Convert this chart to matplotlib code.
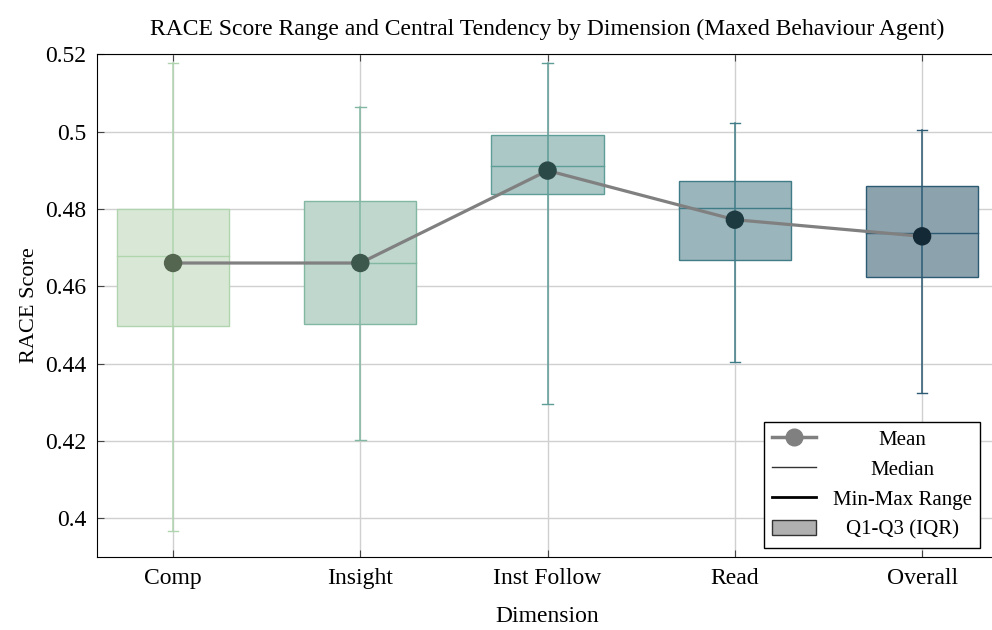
import numpy as np
import matplotlib.pyplot as plt
from matplotlib.lines import Line2D
from matplotlib.patches import Patch

plt.rcParams['font.family'] = ['Liberation Serif', 'DejaVu Serif']

# Values
dimensions = ['Comp', 'Insight', 'Inst Follow', 'Read', 'Overall']
mins = [0.3968, 0.4202, 0.4295, 0.4403, 0.4323]
q1s = [0.4496, 0.4501, 0.4838, 0.4668, 0.4625]
medians = [0.4678, 0.4660, 0.4911, 0.4801, 0.4737]
q3s = [0.4800, 0.4821, 0.4990, 0.4872, 0.4859]
maxs = [0.5176, 0.5064, 0.5176, 0.5021, 0.5003]
means = [0.4660, 0.4660, 0.4899, 0.4772, 0.4729]

box_faces = ['#d9e8d6', '#bfd7cd', '#abc7c6', '#9ab5bb', '#8ca3ae']
box_edges = ['#b0d4ae', '#82b7a2', '#5f9d97', '#3f7c87', '#2b5a72']
mean_colors = ['#556650', '#3c574b', '#2b4947', '#1d3a41', '#132a36']

fig = plt.figure(figsize=(9.92, 6.3), dpi=100)
# the plot area runs a little past the right edge of the picture, as in the original
ax = fig.add_axes([0.098, 0.116, 0.908, 0.798])

x = np.arange(len(dimensions))
w = 0.6
for i in range(len(dimensions)):
    # min-max whisker
    ax.plot([x[i], x[i]], [mins[i], maxs[i]], color=box_edges[i], lw=1.1, zorder=2)
    for v in (mins[i], maxs[i]):
        ax.plot([x[i] - 0.028, x[i] + 0.028], [v, v], color=box_edges[i], lw=1.0, zorder=2)
    # IQR box
    ax.add_patch(plt.Rectangle((x[i] - w / 2, q1s[i]), w, q3s[i] - q1s[i],
                               facecolor=box_faces[i], edgecolor=box_edges[i],
                               lw=1.0, zorder=1))
    # median
    ax.plot([x[i] - w / 2, x[i] + w / 2], [medians[i], medians[i]],
            color=box_edges[i], lw=1.0, zorder=3)

ax.plot(x, means, color='#808080', lw=2.3, zorder=4)
ax.scatter(x, means, s=150, c=mean_colors, zorder=5)

ax.set_xlim(-0.405, 4.405)
ax.set_ylim(0.39, 0.52)
ax.set_xticks(x)
ax.set_xticklabels(dimensions, fontsize=17)
ax.set_yticks([0.40, 0.42, 0.44, 0.46, 0.48, 0.50, 0.52])
ax.set_yticklabels(['0.4', '0.42', '0.44', '0.46', '0.48', '0.5', '0.52'], fontsize=17)
ax.tick_params(direction='in', length=5, color='#444444', pad=8, top=True)
ax.grid(True, color='#d0d0d0', lw=1.0)
ax.set_axisbelow(True)

ax.set_xlabel('Dimension', fontsize=17, labelpad=12)
ax.set_ylabel('RACE Score', fontsize=16, labelpad=4)
ax.set_title('RACE Score Range and Central Tendency by Dimension (Maxed Behaviour Agent)',
             fontsize=17, pad=14)

handles = [
    Line2D([0], [0], color='#808080', lw=2.5, marker='o', markersize=12),
    Line2D([0], [0], color='#333333', lw=1.0),
    Line2D([0], [0], color='black', lw=2.0),
    Patch(facecolor='#b0b0b0', edgecolor='#333333'),
]
labels = ['Mean', 'Median', 'Min-Max Range', 'Q1-Q3 (IQR)']
leg = ax.legend(handles, labels, loc='lower right', fontsize=15, fancybox=False,
                framealpha=1, edgecolor='black', borderpad=0.4, labelspacing=0.5,
                handlelength=2.1, handletextpad=0.8, borderaxespad=0,
                bbox_to_anchor=(980 / 992, 1 - 548 / 630), bbox_transform=fig.transFigure)
leg.get_frame().set_linewidth(1.0)

# centre the legend labels in their column
fig.canvas.draw()
renderer = fig.canvas.get_renderer()
widths = [t.get_window_extent(renderer).width for t in leg.get_texts()]
max_w = max(widths)
for t, tw in zip(leg.get_texts(), widths):
    t.set_position(((max_w - tw) / 2, 0))

fig.savefig('out.png', dpi=100)
